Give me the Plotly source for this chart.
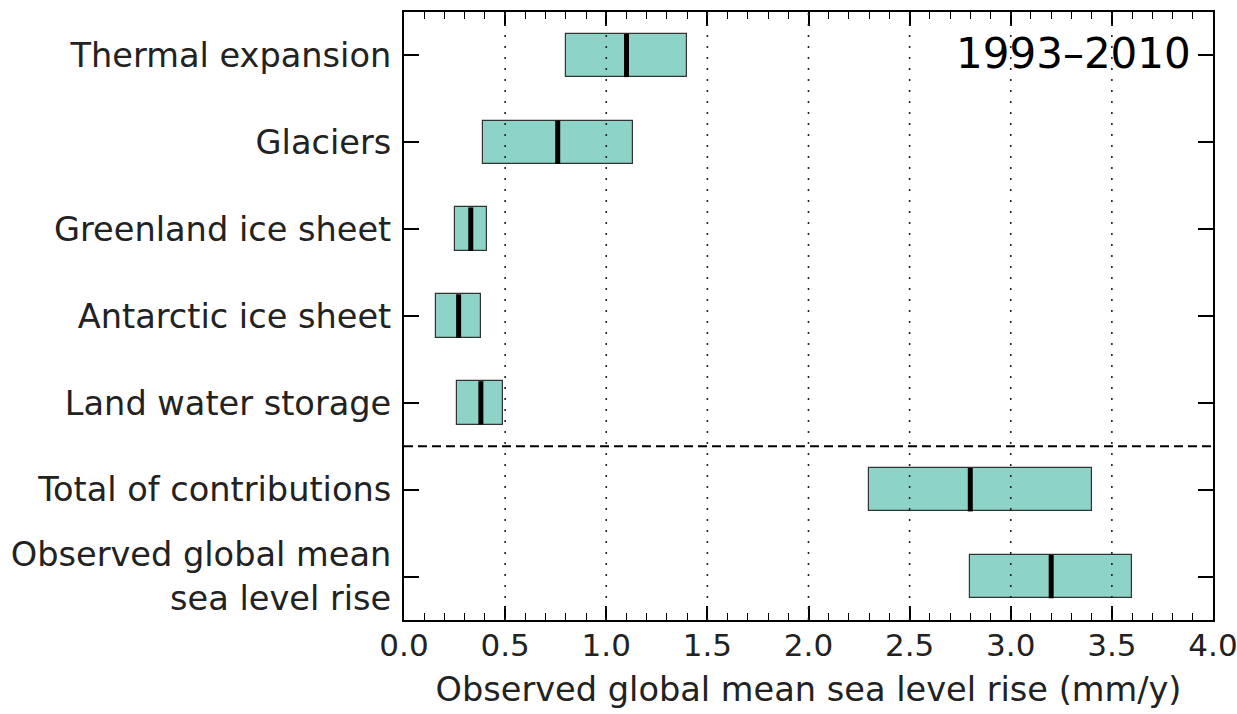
import plotly.graph_objects as go

categories = ["Thermal expansion", "Glaciers", "Greenland ice sheet", "Antarctic ice sheet",
              "Land water storage", "Total of contributions",
              "Observed global mean<br>sea level rise"]
low = [0.80, 0.39, 0.25, 0.16, 0.26, 2.30, 2.80]
high = [1.40, 1.13, 0.41, 0.38, 0.49, 3.40, 3.60]
median = [1.10, 0.76, 0.33, 0.27, 0.38, 2.80, 3.20]
x_ticks = [0.0, 0.5, 1.0, 1.5, 2.0, 2.5, 3.0, 3.5, 4.0]
period_label = "1993–2010"

FONT = "DejaVu Sans"
FILL = "#8dd3c7"
BAR_H = 0.5
FS = 33.6

fig = go.Figure()
fig.add_trace(go.Bar(
    y=list(range(len(categories))),
    x=[h - l for l, h in zip(low, high)],
    base=low,
    orientation="h",
    width=BAR_H,
    marker=dict(color=FILL, line=dict(color="#333333", width=1.2)),
    showlegend=False,
    hoverinfo="skip",
))

shapes = []
# grid lines (drawn above bars, as in the reference)
for t in x_ticks[1:-1]:
    shapes.append(dict(type="line", xref="x", yref="paper", x0=t, x1=t, y0=0, y1=1,
                       line=dict(color="#222222", width=1.6, dash="2px,9px"), layer="above"))
# medians
for i, m in enumerate(median):
    shapes.append(dict(type="line", xref="x", yref="y", x0=m, x1=m,
                       y0=i - BAR_H / 2, y1=i + BAR_H / 2,
                       line=dict(color="black", width=5), layer="above"))
# separator between components and totals
shapes.append(dict(type="line", xref="paper", yref="y", x0=0, x1=1, y0=4.5, y1=4.5,
                   line=dict(color="black", width=2, dash="9px,5px"), layer="above"))

fig.update_layout(
    width=1237, height=714,
    margin=dict(l=404, r=24, t=12, b=94),
    plot_bgcolor="white", paper_bgcolor="white",
    font=dict(family=FONT, size=FS, color="#222222"),
    shapes=shapes,
    bargap=0,
    annotations=[dict(text=period_label, x=3.9, y=0, xref="x", yref="y",
                      xanchor="right", yanchor="middle", showarrow=False, yshift=2,
                      font=dict(family=FONT, size=42, color="black"))],
)
fig.update_xaxes(
    range=[-0.0001, 4.0001], tickvals=x_ticks, ticktext=[f"{v:.1f}" for v in x_ticks],
    ticks="inside", ticklen=14, tickwidth=1.5, tickcolor="black",
    showline=True, linecolor="black", linewidth=2, mirror="allticks",
    showgrid=False, zeroline=False, ticklabelstandoff=-3, ticklabeloverflow="allow",
    automargin=False,
    minor=dict(dtick=0.1, tick0=0, ticks="inside", ticklen=7, tickwidth=1.2, tickcolor="black", showgrid=False),
    title=dict(text="Observed global mean sea level rise (mm/y)", standoff=15,
               font=dict(family=FONT, size=33.6)),
    tickfont=dict(family=FONT, size=31),
)
fig.update_yaxes(
    range=[6.5, -0.5], tickvals=list(range(len(categories))), ticktext=categories,
    ticks="inside", ticklen=15, tickwidth=1.5, tickcolor="black",
    showline=True, linecolor="black", linewidth=2, mirror="allticks",
    showgrid=False, zeroline=False, ticklabelstandoff=4, automargin=False,
    tickfont=dict(family=FONT, size=FS),
)
fig.write_html("out.html")
